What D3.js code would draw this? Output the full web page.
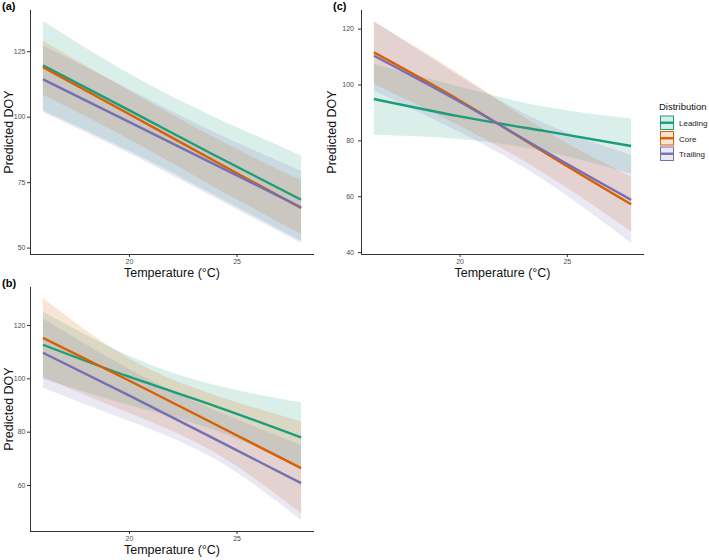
<!DOCTYPE html>
<html>
<head>
<meta charset="utf-8">
<script src="https://cdn.jsdelivr.net/npm/d3@7"></script>
<style>
  body { margin: 0; background: #fff; }
  svg { font-family: "Liberation Sans", Arial, sans-serif; }
</style>
</head>
<body>
<div id="chart"></div>
<script>
var temps = [16, 20, 24, 28];
var groups = ["Leading", "Core", "Trailing"];
var groupColors = ["#1B9E77", "#D95F02", "#7570B3"];
var xTicks = [20, 25];

// panel (a)
var aFit  = [[119.6, 102.5, 85.2, 68.3], [118.9, 101.0, 83.0, 65.1], [114.3, 98.0, 81.7, 65.4]];
var aLow  = [[102.4, 87.0, 70.0, 52.5], [108.4, 91.5, 73.0, 55.2], [101.7, 86.0, 69.0, 51.8]];
var aHigh = [[136.5, 116.5, 99.8, 85.2], [129.0, 110.0, 92.0, 75.6], [127.3, 110.5, 94.0, 79.4]];
var aTicks = [50, 75, 100, 125];

// panel (b)
var bFit  = [[112.6, 100.6, 89.6, 77.8], [115.2, 99.2, 82.8, 66.3], [109.6, 93.6, 77.2, 60.7]];
var bLow  = [[99.8, 90.0, 80.5, 66.0], [100.5, 87.0, 72.2, 49.4], [96.5, 84.0, 69.7, 46.9]];
var bHigh = [[125.1, 108.5, 97.5, 90.9], [130.1, 107.5, 93.7, 83.8], [122.4, 103.5, 88.0, 75.0]];
var bTicks = [60, 80, 100, 120];

// panel (c)
var cFit  = [[94.8, 88.6, 83.3, 78.0], [111.5, 94.3, 75.5, 57.1], [110.3, 93.8, 76.0, 58.7]];
var cLow  = [[82.0, 80.5, 76.0, 68.1], [100.4, 85.2, 68.0, 47.5], [97.8, 83.0, 65.5, 43.3]];
var cHigh = [[107.3, 99.2, 92.0, 87.8], [122.5, 103.7, 83.5, 67.0], [122.7, 103.0, 86.0, 74.8]];
var cTicks = [40, 60, 80, 100, 120];

var svg = d3.select("#chart").append("svg")
  .attr("width", 709).attr("height", 560);

function expand(ext) {
  var pad = (ext[1] - ext[0]) * 0.05;
  return [ext[0] - pad, ext[1] + pad];
}

function drawPanel(tag, box, fit, low, high, yTicks) {
  var x = d3.scaleLinear().domain(expand(d3.extent(temps))).range([box.left, box.right]);
  var yExt = [d3.min(low, function(d) { return d3.min(d); }), d3.max(high, function(d) { return d3.max(d); })];
  var y = d3.scaleLinear().domain(expand(yExt)).range([box.bottom, box.top]);

  var g = svg.append("g");

  var area = d3.area()
    .x(function(d) { return x(d.t); })
    .y0(function(d) { return y(d.lo); })
    .y1(function(d) { return y(d.hi); })
    .curve(d3.curveNatural);
  var line = d3.line()
    .x(function(d) { return x(d.t); })
    .y(function(d) { return y(d.v); })
    .curve(d3.curveNatural);

  groups.forEach(function(name, i) {
    var rows = temps.map(function(t, j) { return {t: t, lo: low[i][j], hi: high[i][j]}; });
    g.append("path").attr("d", area(rows))
      .attr("fill", groupColors[i]).attr("fill-opacity", 0.16);
  });
  groups.forEach(function(name, i) {
    var rows = temps.map(function(t, j) { return {t: t, v: fit[i][j]}; });
    g.append("path").attr("d", line(rows))
      .attr("fill", "none").attr("stroke", groupColors[i]).attr("stroke-width", 2.4);
  });

  var xAxis = g.append("g").attr("transform", "translate(0," + box.bottom + ")")
    .call(d3.axisBottom(x).tickValues(xTicks).tickSize(3).tickPadding(2));
  var yAxis = g.append("g").attr("transform", "translate(" + box.left + ",0)")
    .call(d3.axisLeft(y).tickValues(yTicks).tickSize(3).tickPadding(box.tickPad));
  [xAxis, yAxis].forEach(function(a) {
    a.select(".domain").attr("stroke", "#333").attr("stroke-width", 1);
    a.selectAll(".tick line").attr("stroke", "#333");
    a.selectAll(".tick text").attr("fill", "#4d4d4d").style("font-size", "7px");
  });
  // axis lines span the full panel like ggplot's theme_classic
  xAxis.select(".domain").attr("d", "M" + box.left + ",0.5H" + box.right);
  yAxis.select(".domain").attr("d", "M0.5," + box.top + "V" + box.bottom);

  g.append("text")
    .attr("x", (box.left + box.right) / 2).attr("y", box.bottom + 23)
    .attr("text-anchor", "middle").style("font-size", "12.5px").attr("fill", "#111")
    .text("Temperature (°C)");
  g.append("text")
    .attr("transform", "translate(" + (box.left - box.titleGap) + "," + ((box.top + box.bottom) / 2) + ") rotate(-90)")
    .attr("text-anchor", "middle").style("font-size", "12.5px").attr("fill", "#111")
    .text("Predicted DOY");
  g.append("text")
    .attr("x", box.left - 28).attr("y", box.top - 0)
    .style("font-size", "11px").style("font-weight", "bold")
    .text(tag);
}

drawPanel("(a)", {left: 30, right: 314, top: 10, bottom: 254, tickPad: 1.5, titleGap: 17}, aFit, aLow, aHigh, aTicks);
drawPanel("(b)", {left: 30, right: 314, top: 287, bottom: 531, tickPad: 1.5, titleGap: 17}, bFit, bLow, bHigh, bTicks);
drawPanel("(c)", {left: 361, right: 644, top: 10, bottom: 254, tickPad: 4, titleGap: 25}, cFit, cLow, cHigh, cTicks);

// legend
var legend = svg.append("g").attr("transform", "translate(659,0)");
legend.append("text").attr("x", 0).attr("y", 110)
  .style("font-size", "9.5px").attr("fill", "#111").text("Distribution");
groups.forEach(function(name, i) {
  var top = 116 + i * 15.5;
  legend.append("rect").attr("x", 1.5).attr("y", top).attr("width", 13).attr("height", 13.5)
    .attr("fill", groupColors[i]).attr("fill-opacity", 0.16)
    .attr("stroke", groupColors[i]).attr("stroke-width", 1);
  legend.append("line").attr("x1", 1.5).attr("x2", 14.5)
    .attr("y1", top + 6.75).attr("y2", top + 6.75)
    .attr("stroke", groupColors[i]).attr("stroke-width", 2.4);
  legend.append("text").attr("x", 20).attr("y", top + 10)
    .style("font-size", "8px").attr("fill", "#222").text(name);
});
</script>
</body>
</html>
